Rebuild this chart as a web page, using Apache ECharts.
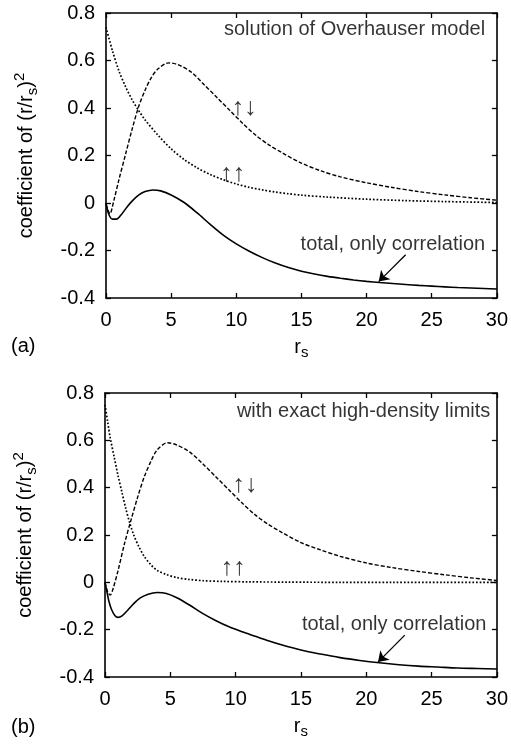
<!DOCTYPE html>
<html><head><meta charset="utf-8">
<script src="https://cdn.jsdelivr.net/npm/echarts@6/dist/echarts.min.js"></script>
<style>html,body{margin:0;padding:0;background:#fff}#c{width:511px;height:745px}</style>
</head><body><div id="c"></div><script>
// ---- data ----
const xMin = 0, xMax = 30, xStep = 5;
const yMin = -0.4, yMax = 0.8, yStep = 0.2;

// panel (a): solution of Overhauser model
const rTotA = [0,0.2,0.5,0.8,1.2,1.6,2.0,2.5,3.0,3.6,4.2,5.0,6.0,7.0,8.0,9.0,10,11,12,13,14,15,16,17,18,19,20,21,22,23,24,25,26,27,28,29,30];
const totA  = [0,-0.045,-0.068,-0.068,-0.047,-0.018,0.008,0.033,0.048,0.055,0.051,0.034,0.002,-0.042,-0.09,-0.135,-0.172,-0.203,-0.23,-0.253,-0.272,-0.287,-0.299,-0.309,-0.317,-0.324,-0.330,-0.335,-0.339,-0.343,-0.347,-0.350,-0.353,-0.356,-0.358,-0.360,-0.362];
const rUdA  = [0,0.3,0.6,1.0,1.5,2.0,2.5,3.0,3.5,4.0,4.8,5.5,6.5,7.5,8.5,9.5,10.5,11.5,12.5,13.5,15,16.5,18,20,22,24,26,28,30];
const udA   = [-0.005,-0.045,0.01,0.10,0.205,0.31,0.405,0.475,0.53,0.565,0.59,0.583,0.553,0.50,0.445,0.39,0.335,0.285,0.245,0.212,0.168,0.135,0.11,0.085,0.065,0.048,0.034,0.022,0.012];
const rUuA  = [0,0.5,1.0,1.5,2.0,2.5,3.0,4.0,5.0,6.0,7.0,8.0,9.0,10,11,12,13,14,15,17,20,23,26,30];
const uuA   = [0.74,0.64,0.555,0.49,0.435,0.39,0.35,0.285,0.228,0.183,0.148,0.12,0.098,0.08,0.066,0.055,0.046,0.039,0.033,0.025,0.016,0.010,0.006,0.002];

// panel (b): with exact high-density limits
const rTotB = [0,0.15,0.3,0.5,0.75,1.0,1.3,1.7,2.2,2.7,3.3,4.0,4.7,5.5,6.5,7.5,8.5,9.5,10.5,11.5,12.5,13.5,15,16.5,18,19.5,21,22.5,24,25.5,27,28.5,30];
const totB  = [0,-0.04,-0.08,-0.115,-0.14,-0.148,-0.142,-0.12,-0.09,-0.066,-0.05,-0.043,-0.047,-0.065,-0.097,-0.132,-0.162,-0.188,-0.209,-0.228,-0.247,-0.264,-0.286,-0.303,-0.318,-0.33,-0.34,-0.348,-0.354,-0.358,-0.362,-0.364,-0.366];
const rUdB  = [0,0.2,0.4,0.6,1.0,1.5,2.0,2.5,3.0,3.5,4.0,4.8,5.5,6.5,7.5,8.5,9.5,10.5,11.5,12.5,13.5,15,16.5,18,20,22,24,26,28,30];
const udB   = [0.0,-0.04,-0.054,-0.03,0.05,0.165,0.265,0.36,0.445,0.51,0.56,0.59,0.58,0.55,0.5,0.445,0.39,0.335,0.285,0.245,0.212,0.168,0.137,0.11,0.082,0.062,0.046,0.032,0.019,0.008];
const rUuB  = [0,0.2,0.4,0.7,1.0,1.3,1.6,1.9,2.2,2.6,3.0,3.5,4.0,4.7,5.5,6.5,7.5,9,11,14,18,22,26,30];
const uuB   = [0.75,0.68,0.61,0.53,0.45,0.38,0.31,0.25,0.2,0.15,0.11,0.075,0.05,0.033,0.02,0.012,0.007,0.004,0.002,0.001,0,0,0,0];

// annotation texts and anchor points (data coordinates)
const titlesText = ['solution of Overhauser model', 'with exact high-density limits'];
const titlesAt   = [[29.1, 0.73], [29.5, 0.724]];
const totalText  = 'total, only correlation';
const totalAt    = [[29.1, -0.176], [29.2, -0.176]];
const arrowFrom  = [[23.0, -0.218], [22.95, -0.223]];
const arrowTo    = [[20.93, -0.331], [20.9, -0.337]];
const udText = '↑↓', uuText = '↑↑';
const udAt = [[10.6, 0.40], [10.7, 0.41]];
const uuAt = [[9.7, 0.123], [9.8, 0.06]];
const panelText = ['(a)', '(b)'];

// ---- chart ----
const FONT = '"Liberation Sans", Arial, "DejaVu Sans", sans-serif';
const FS = 20;
const chart = echarts.init(document.getElementById('c'), null, {renderer: 'canvas'});
const pairs = (r, v) => r.map((x, i) => [x, v[i]]);

const grids = [
  {left: 106, top: 13, width: 392.5, height: 285},
  {left: 105, top: 393, width: 392, height: 284}
];
const lineW = 1.6;
const axisLine = {show: true, onZero: false, lineStyle: {color: '#000', width: lineW}};
const tick = {show: true, inside: true, length: 5, lineStyle: {color: '#000', width: 1.3}};
const fmtY = v => String(+v.toFixed(1));

const xAxis = [], yAxis = [], series = [], title = [];
grids.forEach((g, i) => {
  xAxis.push({
    type: 'value', gridIndex: i, min: xMin, max: xMax, interval: xStep, position: 'bottom',
    axisLine, axisTick: tick, splitLine: {show: false},
    axisLabel: {color: '#000', fontSize: FS, fontFamily: FONT, margin: 12},
    name: '{m|r}{s|s}', nameLocation: 'middle', nameGap: 36,
    nameTextStyle: {rich: {
      m: {fontSize: FS, fontFamily: FONT, color: '#000', lineHeight: 26},
      s: {fontSize: 15, fontFamily: FONT, color: '#000', lineHeight: 15, verticalAlign: 'bottom'}
    }}
  });
  xAxis.push({
    type: 'value', gridIndex: i, min: xMin, max: xMax, interval: xStep, position: 'top',
    axisLine, axisTick: tick, axisLabel: {show: false}, splitLine: {show: false}
  });
  yAxis.push({
    type: 'value', gridIndex: i, min: yMin, max: yMax, interval: yStep, position: 'left',
    axisLine, axisTick: tick, splitLine: {show: false},
    axisLabel: {color: '#000', fontSize: FS, fontFamily: FONT, margin: 11, formatter: fmtY},
    name: '{m|coefficient of (r/r}{s|s}{m|)}{p|2}', nameLocation: 'middle', nameGap: 66,
    nameTextStyle: {rich: {
      m: {fontSize: FS, fontFamily: FONT, color: '#000', lineHeight: 28},
      s: {fontSize: 15, fontFamily: FONT, color: '#000', lineHeight: 15, verticalAlign: 'bottom'},
      p: {fontSize: 15, fontFamily: FONT, color: '#000', lineHeight: 15, verticalAlign: 'top'}
    }}
  });
  yAxis.push({
    type: 'value', gridIndex: i, min: yMin, max: yMax, interval: yStep, position: 'right',
    axisLine, axisTick: tick, axisLabel: {show: false}, splitLine: {show: false}
  });
  title.push({text: panelText[i], left: 11, top: i === 0 ? 336 : 717, padding: 0,
    textStyle: {fontSize: FS, fontWeight: 'normal', fontFamily: FONT, color: '#000'}});
});

const sets = [
  {tot: pairs(rTotA, totA), ud: pairs(rUdA, udA), uu: pairs(rUuA, uuA)},
  {tot: pairs(rTotB, totB), ud: pairs(rUdB, udB), uu: pairs(rUuB, uuB)}
];
const base = {type: 'line', symbol: 'none', showSymbol: false, smooth: 0.3, silent: true, clip: true};
sets.forEach((s, i) => {
  const xi = 2 * i, yi = 2 * i;
  series.push(Object.assign({}, base, {
    xAxisIndex: xi, yAxisIndex: yi, data: s.uu,
    lineStyle: {color: '#000', width: 1.7, type: [1.7, 1.9]}
  }));
  series.push(Object.assign({}, base, {
    xAxisIndex: xi, yAxisIndex: yi, data: s.ud,
    lineStyle: {color: '#000', width: 1.4, type: [4, 2]}
  }));
  series.push(Object.assign({}, base, {
    xAxisIndex: xi, yAxisIndex: yi, data: s.tot,
    lineStyle: {color: '#000', width: 1.6, type: 'solid'},
    markLine: {
      silent: true, symbol: ['none', 'arrow'], symbolSize: 10, animation: false,
      label: {show: false},
      lineStyle: {color: '#000', width: 1.3, type: 'solid'},
      data: [[{coord: arrowFrom[i]}, {coord: arrowTo[i]}]]
    }
  }));
  const lab = (pos, text, align, fs) => ({value: pos, label: {formatter: text, align, fontSize: fs}});
  series.push({
    type: 'scatter', xAxisIndex: xi, yAxisIndex: yi, symbolSize: 0, silent: true,
    label: {show: true, position: [0, 0], verticalAlign: 'middle', color: '#000',
      fontSize: FS, fontFamily: FONT},
    data: [
      lab(titlesAt[i], titlesText[i], 'right', FS),
      lab(totalAt[i], totalText, 'right', FS),
      lab(udAt[i], udText, 'center', 25),
      lab(uuAt[i], uuText, 'center', 25)
    ]
  });
});

chart.setOption({
  animation: false,
  backgroundColor: '#fff',
  title, grid: grids, xAxis, yAxis, series
});
</script></body></html>
